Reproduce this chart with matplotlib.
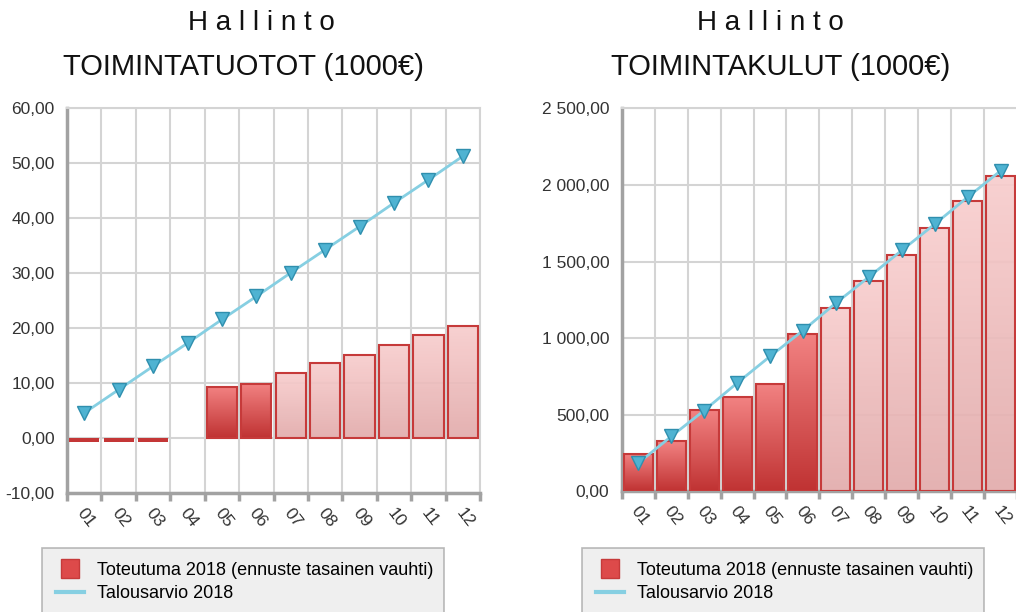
import numpy as np
import matplotlib.pyplot as plt
from matplotlib.patches import Rectangle, Patch
from matplotlib.lines import Line2D
from matplotlib.ticker import FuncFormatter, FixedLocator
from matplotlib.colors import LinearSegmentedColormap
from matplotlib.legend_handler import HandlerPatch

months = ['01', '02', '03', '04', '05', '06', '07', '08', '09', '10', '11', '12']
n_actual = 6  # first six months are actuals, rest is forecast

tuotot_toteutuma = [-0.6, -0.6, -0.6, 0, 9.3, 9.95, 11.8, 13.6, 15.1, 16.9, 18.7, 20.5]
tuotot_budjetti = [4.6, 8.85, 13.1, 17.3, 21.6, 25.8, 30.1, 34.3, 38.5, 42.8, 47.0, 51.3]
kulut_toteutuma = [246, 326, 533, 613, 702, 1027, 1200, 1370, 1540, 1722, 1892, 2060]
kulut_budjetti = [185, 359, 528, 707, 881, 1050, 1229, 1399, 1573, 1744, 1920, 2092]

plt.rcParams['font.family'] = ['Liberation Sans', 'DejaVu Sans']

EDGE = '#c63a3a'
GRID = '#d4d4d4'
AXIS = '#a2a2a2'
LINE = '#86cfe2'


def fi_fmt(v, pos):
    s = f"{v:,.2f}"
    return s.replace(',', ' ').replace('.', ',')


def gradient_fill(ax, bar, top, bottom, alpha=1.0):
    x, y = bar.get_x(), bar.get_y()
    w, h = bar.get_width(), bar.get_height()
    cmap = LinearSegmentedColormap.from_list('g', [bottom, top])
    grad = np.linspace(0, 1, 64).reshape(-1, 1)
    im = ax.imshow(grad, extent=[x, x + w, y, y + h], origin='lower', cmap=cmap,
                   aspect='auto', zorder=2.9, alpha=alpha, interpolation='bicubic')
    im.set_clip_path(bar)
    bar.set_facecolor('none')


def draw(ax, actual, budget, ylim, step):
    x = np.arange(len(months))
    bars = ax.bar(x, actual, width=0.88, edgecolor=EDGE, linewidth=1.5, zorder=3)
    for i, b in enumerate(bars):
        if actual[i] == 0:
            b.set_visible(False)
        elif actual[i] < 0:
            b.set_facecolor('#c43636')
            b.set_linewidth(0)
        elif i < n_actual:
            gradient_fill(ax, b, '#f28282', '#c03333')
        else:
            gradient_fill(ax, b, '#f8cdcd', '#e2abab', alpha=0.92)
    ax.plot(x, budget, color=LINE, lw=2, marker='v', ms=10, mfc='#4fb3d2',
            mec='#2f8fae', mew=1, zorder=4)
    ax.set_xlim(-0.5, len(months) - 0.5)
    ax.set_ylim(*ylim)
    ax.set_yticks(np.arange(ylim[0], ylim[1] + step / 2, step))
    ax.yaxis.set_major_formatter(FuncFormatter(fi_fmt))
    ax.set_xticks(x - 0.12)
    ax.set_xticklabels(months, rotation=-52, ha='left', va='center',
                       rotation_mode='anchor')
    ax.xaxis.set_minor_locator(FixedLocator(np.arange(-0.5, len(months), 1)))
    ax.tick_params(axis='x', which='major', length=0, pad=12, labelsize=12.5,
                   labelcolor='#333333')
    ax.tick_params(axis='x', which='minor', length=6, width=2.5, color=AXIS)
    ax.tick_params(axis='y', length=0, pad=9, labelsize=12.5, labelcolor='#333333')
    ax.grid(which='minor', axis='x', color=GRID, lw=1.5)
    ax.grid(which='major', axis='y', color=GRID, lw=1.5)
    ax.set_axisbelow(True)
    for s in ['top', 'right']:
        ax.spines[s].set_color(GRID)
        ax.spines[s].set_linewidth(1.5)
    for s in ['left', 'bottom']:
        ax.spines[s].set_color(AXIS)
        ax.spines[s].set_linewidth(2.5)


class SquarePatch(HandlerPatch):
    def create_artists(self, legend, orig, xd, yd, w, h, fs, trans):
        r = Rectangle((xd + w * 0.2, yd - h * 0.3), w * 0.62, h * 1.55,
                      facecolor='#dd4a4a', edgecolor=EDGE, lw=1, transform=trans)
        return [r]


fig = plt.figure(figsize=(10.16, 6.12), dpi=100)
ax1 = fig.add_axes([0.066, 0.194, 0.4065, 0.629])
ax2 = fig.add_axes([0.612, 0.197, 0.389, 0.626])

draw(ax1, tuotot_toteutuma, tuotot_budjetti, (-10, 60), 10)
draw(ax2, kulut_toteutuma, kulut_budjetti, (0, 2500), 500)

title_kw = dict(ha='center', va='center', color='#111111')
fig.text(261 / 1016, 1 - 23 / 612, ' '.join('Hallinto'), fontsize=20, **title_kw)
fig.text(243 / 1016, 1 - 67 / 612, 'TOIMINTATUOTOT (1000€)', fontsize=21, **title_kw)
fig.text(770 / 1016, 1 - 23 / 612, ' '.join('Hallinto'), fontsize=20, **title_kw)
fig.text(781 / 1016, 1 - 67 / 612, 'TOIMINTAKULUT (1000€)', fontsize=21, **title_kw)

handles = [Patch(facecolor='#dd4a4a', edgecolor=EDGE),
           Line2D([], [], color=LINE, lw=3)]
labels = ['Toteutuma 2018 (ennuste tasainen vauhti)', 'Talousarvio 2018']
for x0 in (42, 582):
    leg = fig.legend(handles, labels, loc='upper left', mode='expand',
                     bbox_to_anchor=(x0 / 1016, 1 - 548 / 612, 402 / 1016, 0),
                     borderaxespad=0, fancybox=False, frameon=True,
                     prop={'size': 13}, handlelength=1.6,
                     handletextpad=0.7, labelspacing=0.35, borderpad=0.75,
                     handler_map={Patch: SquarePatch()})
    leg.get_frame().set_facecolor('#ececec')
    leg.get_frame().set_edgecolor('#a8a8a8')
    leg.get_frame().set_linewidth(1.2)

fig.savefig('out.png', dpi=100)
